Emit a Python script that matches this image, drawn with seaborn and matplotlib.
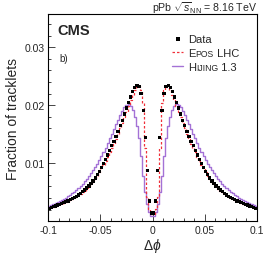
import numpy as np
import pandas as pd
import matplotlib
matplotlib.use("Agg")
import matplotlib.pyplot as plt
import seaborn as sns
from matplotlib.ticker import MultipleLocator

# bin centres of the delta-phi histogram (bin width 0.002)
dphi = np.round(np.arange(-0.099, 0.1, 0.002), 3)

# fractions in units of 1e-3 (left to right)
data_vals = [
    2.25, 2.4, 2.5, 2.65, 2.8, 2.9, 3.05, 3.2, 3.35, 3.5,
    3.7, 3.9, 4.1, 4.3, 4.55, 4.8, 5.1, 5.4, 5.75, 6.1,
    6.5, 6.95, 7.45, 8.0, 8.6, 9.3, 10.0, 10.7, 11.4, 12.2,
    13.0, 13.8, 14.6, 15.5, 16.5, 17.4, 18.5, 19.5, 20.5, 21.4,
    22.3, 23.0, 23.4, 23.2, 22.0, 19.1, 14.4, 8.7, 3.5, 1.45,
    1.45, 3.5, 8.7, 14.4, 19.1, 22.0, 23.2, 23.4, 23.0, 22.3,
    21.4, 20.5, 19.5, 18.5, 17.4, 16.5, 15.5, 14.6, 13.8, 13.0,
    12.2, 11.4, 10.7, 10.0, 9.3, 8.6, 8.0, 7.45, 6.95, 6.5,
    6.1, 5.75, 5.4, 5.1, 4.8, 4.55, 4.3, 4.1, 3.9, 3.7,
    3.5, 3.35, 3.2, 3.05, 2.9, 2.8, 2.65, 2.5, 2.4, 2.25,
]
epos_vals = [
    2.25, 2.4, 2.5, 2.65, 2.8, 2.9, 3.05, 3.2, 3.35, 3.5,
    3.65, 3.85, 4.05, 4.25, 4.5, 4.75, 5.0, 5.3, 5.65, 6.0,
    6.4, 6.85, 7.3, 7.85, 8.45, 9.1, 9.75, 10.4, 11.1, 11.9,
    12.6, 13.4, 14.2, 15.1, 16.0, 16.9, 17.9, 18.9, 19.9, 20.9,
    21.8, 22.6, 23.2, 23.3, 22.6, 20.3, 12.6, 4.2, 2.2, 1.2,
    1.2, 2.2, 4.2, 12.6, 20.3, 22.6, 23.3, 23.2, 22.6, 21.8,
    20.9, 19.9, 18.9, 17.9, 16.9, 16.0, 15.1, 14.2, 13.4, 12.6,
    11.9, 11.1, 10.4, 9.75, 9.1, 8.45, 7.85, 7.3, 6.85, 6.4,
    6.0, 5.65, 5.3, 5.0, 4.75, 4.5, 4.25, 4.05, 3.85, 3.65,
    3.5, 3.35, 3.2, 3.05, 2.9, 2.8, 2.65, 2.5, 2.4, 2.25,
]
hijing_vals = [
    2.65, 2.8, 2.95, 3.1, 3.3, 3.45, 3.65, 3.85, 4.05, 4.3,
    4.55, 4.8, 5.1, 5.4, 5.75, 6.1, 6.5, 6.9, 7.35, 7.8,
    8.3, 8.8, 9.3, 9.9, 10.6, 11.3, 12.0, 12.7, 13.5, 14.3,
    15.1, 15.9, 16.7, 17.5, 18.3, 19.0, 19.7, 20.1, 20.2, 19.9,
    19.2, 18.0, 16.4, 14.3, 11.3, 7.8, 5.0, 3.0, 1.6, 0.9,
    0.9, 1.6, 3.0, 5.0, 7.8, 11.3, 14.3, 16.4, 18.0, 19.2,
    19.9, 20.2, 20.1, 19.7, 19.0, 18.3, 17.5, 16.7, 15.9, 15.1,
    14.3, 13.5, 12.7, 12.0, 11.3, 10.6, 9.9, 9.3, 8.8, 8.3,
    7.8, 7.35, 6.9, 6.5, 6.1, 5.75, 5.4, 5.1, 4.8, 4.55,
    4.3, 4.05, 3.85, 3.65, 3.45, 3.3, 3.1, 2.95, 2.8, 2.65,
]

x_ticks = [-0.1, -0.05, 0.0, 0.05, 0.1]
x_labels = ["-0.1", "-0.05", "0", "0.05", "0.1"]
y_ticks = [0.01, 0.02, 0.03]
y_labels = ["0.01", "0.02", "0.03"]

df = pd.DataFrame({
    "dphi": dphi,
    "data": np.array(data_vals) * 1e-3,
    "epos": np.array(epos_vals) * 1e-3,
    "hijing": np.array(hijing_vals) * 1e-3,
})

sns.set_theme(style="ticks")
plt.rcParams["font.family"] = ["Liberation Sans", "DejaVu Sans"]
plt.rcParams["mathtext.fontset"] = "custom"
plt.rcParams["mathtext.rm"] = "Liberation Sans"
plt.rcParams["mathtext.it"] = "Liberation Sans:italic"
plt.rcParams["axes.unicode_minus"] = False

purple = "#a472d6"
red = "#f0303a"

fig = plt.figure(figsize=(2.66, 2.55), dpi=100)
ax = fig.add_axes([0.1816, 0.1282, 0.7835, 0.8128])

sns.lineplot(data=df, x="dphi", y="hijing", color=purple, lw=1.0,
             drawstyle="steps-mid", ax=ax, legend=False)
line_hij = ax.lines[-1]
sns.lineplot(data=df, x="dphi", y="epos", color=red, lw=0.9,
             drawstyle="steps-mid", ax=ax, legend=False)
line_epos = ax.lines[-1]
line_epos.set_dashes([2.0, 1.6])
sns.scatterplot(data=df, x="dphi", y="data", marker="s", s=5.5,
                color="black", edgecolor="none", ax=ax, zorder=3, legend=False)
pts = ax.collections[-1]

ax.set_xlim(-0.1, 0.1)
ax.set_ylim(0, 0.0357)
ax.set_xticks(x_ticks, labels=x_labels)
ax.set_yticks(y_ticks, labels=y_labels)
ax.xaxis.set_minor_locator(MultipleLocator(0.01))
ax.yaxis.set_minor_locator(MultipleLocator(0.002))
ax.tick_params(which="both", direction="in", width=0.6, labelsize=7.5, pad=2.5)
ax.tick_params(which="major", length=5)
ax.tick_params(which="minor", length=2.5)
for sp in ax.spines.values():
    sp.set_linewidth(0.8)
    sp.set_color("black")

ax.set_xlabel(r"$\Delta\phi$", fontsize=10, labelpad=1)
ax.set_ylabel("Fraction of tracklets", fontsize=10, labelpad=3)

leg = ax.legend([pts, line_epos, line_hij], ["Data", "E", "H"],
                loc="upper left", bbox_to_anchor=(0.594, 0.905),
                frameon=False, fontsize=8, handlelength=1.0,
                handletextpad=0.45, labelspacing=0.38, borderpad=0,
                borderaxespad=0, scatterpoints=1, markerscale=1.2)

# small-caps tails of the model names, placed after the legend letters
fig.canvas.draw()
renderer = fig.canvas.get_renderer()
W, H = fig.bbox.width, fig.bbox.height
for txt, small, rest in [(leg.get_texts()[1], "POS", " LHC"),
                         (leg.get_texts()[2], "IJING", " 1.3")]:
    bb = txt.get_window_extent(renderer)
    base = bb.y0 + 0.21 * 8 * 100 / 72
    t_small = fig.text(bb.x1 / W, base / H, small, fontsize=6.2,
                       ha="left", va="baseline")
    bb2 = t_small.get_window_extent(renderer)
    fig.text(bb2.x1 / W, base / H, rest, fontsize=8, ha="left", va="baseline")

ax.text(0.043, 0.955, "CMS", transform=ax.transAxes, fontsize=10.5,
        fontweight="bold", ha="left", va="top")
ax.text(0.053, 0.812, "b)", transform=ax.transAxes, fontsize=7, ha="left", va="top")
ax.text(1.0, 1.014, r"pPb $\sqrt{s}_{\mathrm{NN}}$ = 8.16 TeV", transform=ax.transAxes,
        fontsize=7.6, ha="right", va="baseline")

fig.savefig("out.png", dpi=100)
